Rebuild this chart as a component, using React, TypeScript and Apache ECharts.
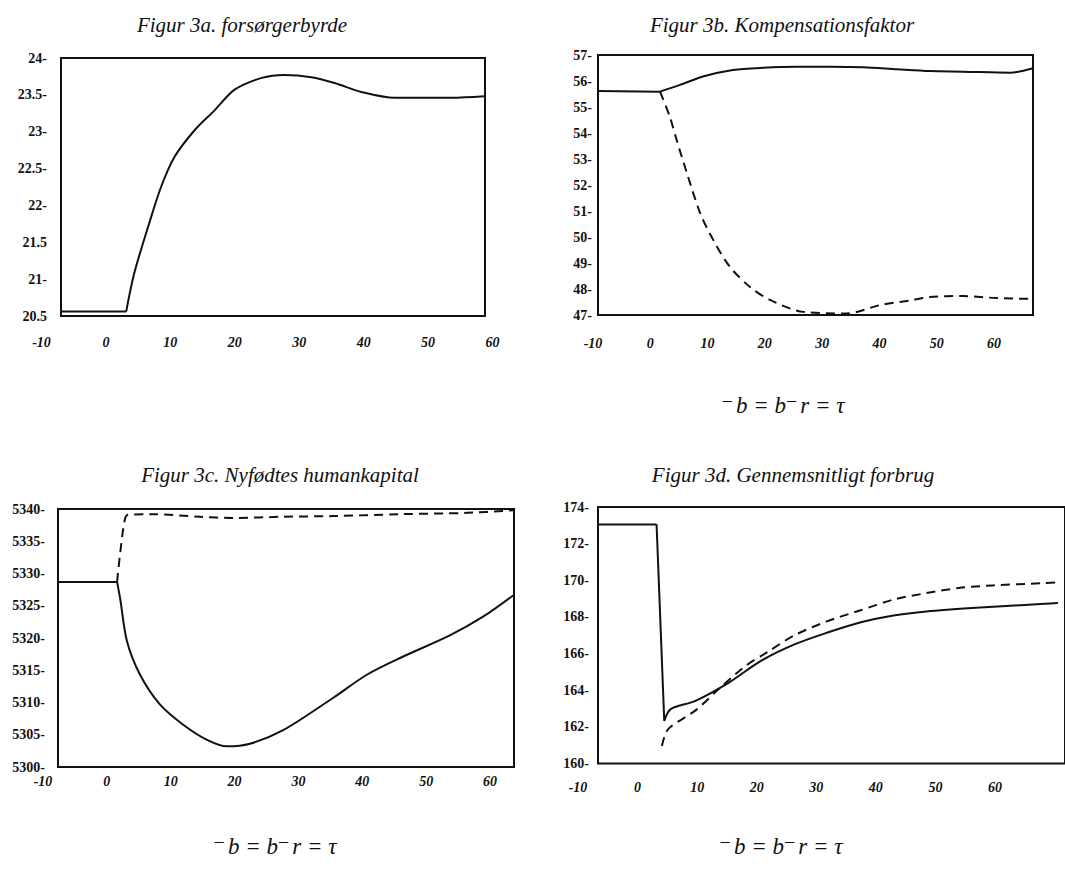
import React, { useEffect, useRef } from "react";
import * as echarts from "echarts";

// ---------- data ----------
// Figur 3a. forsørgerbyrde
const aX = [-7, 3.1, 4.35, 6.5, 8.5, 10.6, 13.7, 16.8, 19.9, 24.1, 27.6, 31.8, 35.4, 39.5, 44.7, 48.4, 53.5, 58.6];
const aSolid = [20.56, 20.56, 21.08, 21.71, 22.25, 22.66, 23.02, 23.29, 23.57, 23.73, 23.77, 23.74, 23.66, 23.54, 23.46, 23.46, 23.46, 23.48];

// Figur 3b. Kompensationsfaktor
const bX = [-9.1, 1.7, 5.2, 9.2, 14.4, 19.7, 25.6, 31.4, 37.2, 43.1, 48.8, 54.6, 62.8, 66.8];
const bSolid = [55.62, 55.59, 55.85, 56.17, 56.42, 56.51, 56.55, 56.55, 56.53, 56.45, 56.38, 56.36, 56.32, 56.49];
const bDX = [1.7, 3.4, 4.6, 6.4, 8.7, 11, 13.9, 17.4, 20.9, 26.7, 34.3, 40.1, 45.9, 48.8, 54.6, 60.5, 66.8];
const bDashed = [55.59, 54.63, 53.73, 52.45, 50.92, 49.88, 48.85, 48.08, 47.58, 47.12, 47.06, 47.38, 47.58, 47.69, 47.73, 47.65, 47.62];

// Figur 3c. Nyfødtes humankapital
const cX = [-7.65, 1.6, 2.1, 3.15, 5.2, 8.3, 11.9, 15.7, 18.8, 22.4, 27.6, 35.4, 40.7, 45.9, 53.7, 58.9, 63.6];
const cSolid = [5328.7, 5328.7, 5326, 5319.5, 5314.3, 5309.7, 5306.6, 5304.2, 5303.2, 5303.6, 5305.7, 5310.7, 5314.3, 5316.9, 5320.4, 5323.3, 5326.6];
const cDX = [1.6, 2.1, 2.8, 3.3, 6.8, 14.6, 19.75, 27.6, 35.4, 45.9, 56.4, 63.6];
const cDashed = [5328.7, 5333.3, 5338.3, 5339.1, 5339.2, 5338.8, 5338.6, 5338.8, 5338.9, 5339.2, 5339.4, 5339.8];

// Figur 3d. Gennemsnitligt forbrug
const dX = [-6.64, 3.3, 4.6, 5.7, 9.9, 15.5, 21, 26.7, 32.3, 37.8, 43.5, 49.1, 57.5, 69.2, 71.4];
const dSolid = [173.05, 173.05, 162.33, 162.97, 163.42, 164.4, 165.6, 166.5, 167.15, 167.7, 168.08, 168.3, 168.5, 168.72, 168.76];
const dDX = [4.2, 4.9, 5.9, 9.9, 13.8, 18.3, 22.2, 26.7, 32.3, 37.8, 43.5, 49.1, 54.6, 60.3, 69.2, 71.4];
const dDashed = [160.96, 161.7, 162.06, 162.9, 164.05, 165.3, 166.1, 167.0, 167.77, 168.35, 168.95, 169.3, 169.58, 169.72, 169.85, 169.88];

const titles = [
  "Figur 3a. forsørgerbyrde",
  "Figur 3b. Kompensationsfaktor",
  "Figur 3c. Nyfødtes humankapital",
  "Figur 3d. Gennemsnitligt forbrug",
];
// formula "−b = b−r = τ" (the minus signs are raised)
const formulaRich = "{m|−}{t|b = b}{m|−}{t|r = τ}";

// ---------- layout ----------
const W = 1065;
const FONT = '"Liberation Serif", "Times New Roman", serif';
const INK = "#111";

type Panel = {
  box: { l: number; r: number; t: number; b: number };
  xMin: number; xMax: number;
  yMin: number; yMax: number; yInt: number; yMargin: number;
  noDash: number[];
  lab: { x0: number; x1: number; y: number };
  title: { x: number; y: number };
};

const panels: Panel[] = [
  { box: { l: 61, r: 485, t: 58, b: 316 }, xMin: -7, xMax: 58.7, yMin: 20.5, yMax: 24, yInt: 0.5, yMargin: 14, noDash: [21.5, 20.5], lab: { x0: 41.5, x1: 492.5, y: 342 }, title: { x: 242, y: 25 } },
  { box: { l: 598, r: 1033, t: 55, b: 315 }, xMin: -9.13, xMax: 66.8, yMin: 47, yMax: 57, yInt: 1, yMargin: 6, noDash: [], lab: { x0: 593, x1: 994, y: 343 }, title: { x: 782, y: 25 } },
  { box: { l: 58, r: 514, t: 509, b: 767 }, xMin: -7.65, xMax: 63.75, yMin: 5300, yMax: 5340, yInt: 5, yMargin: 13, noDash: [], lab: { x0: 43, x1: 490, y: 781 }, title: { x: 280, y: 475 } },
  { box: { l: 598, r: 1070, t: 507, b: 763.5 }, xMin: -6.64, xMax: 72.6, yMin: 160, yMax: 174, yInt: 2, yMargin: 9, noDash: [], lab: { x0: 578, x1: 995, y: 787 }, title: { x: 793, y: 475 } },
];

const formulaPos = [
  { x: 783, y: 405 },
  { x: 275, y: 846 },
  { x: 781, y: 846 },
];

const pairs = (xs: number[], ys: number[]) => xs.map((x, i) => [x, ys[i]]);

function buildOption() {
  const grid: any[] = [];
  const xAxis: any[] = [];
  const yAxis: any[] = [];
  panels.forEach((p) => {
    grid.push({
      left: p.box.l, top: p.box.t, width: p.box.r - p.box.l, height: p.box.b - p.box.t,
      show: true, borderColor: INK, borderWidth: 2, backgroundColor: "transparent",
    });
    grid.push({ left: p.lab.x0, top: p.lab.y - 8, width: p.lab.x1 - p.lab.x0, height: 1, show: false });
  });
  panels.forEach((p, i) => {
    const gData = i * 2;
    const gLab = i * 2 + 1;
    xAxis.push({ type: "value", gridIndex: gData, min: p.xMin, max: p.xMax, show: false });
    yAxis.push({
      type: "value", gridIndex: gData, min: p.yMin, max: p.yMax, interval: p.yInt,
      axisLine: { show: false }, axisTick: { show: false }, splitLine: { show: false },
      axisLabel: {
        margin: p.yMargin, color: INK, fontFamily: FONT, fontSize: 14, fontWeight: "bold",
        formatter: (v: number) => (p.noDash.includes(v) ? `${v}` : `${v}-`),
      },
    });
    xAxis.push({
      type: "value", gridIndex: gLab, min: -10, max: 60, interval: 10,
      axisLine: { show: false }, axisTick: { show: false }, splitLine: { show: false },
      axisLabel: { margin: 0, color: INK, fontFamily: FONT, fontSize: 14, fontWeight: "bold", fontStyle: "italic" },
    });
    yAxis.push({ type: "value", gridIndex: gLab, show: false, min: 0, max: 1 });
  });

  // a line is drawn as smooth pieces between its corner points (breaks)
  const line = (panelIdx: number, xs: number[], ys: number[], dashed: boolean, breaks: number[]) => {
    const data = pairs(xs, ys);
    const cuts = [0, ...breaks, data.length - 1];
    const out: any[] = [];
    for (let k = 0; k < cuts.length - 1; k++) {
      out.push({
        type: "line",
        xAxisIndex: panelIdx * 2,
        yAxisIndex: panelIdx * 2,
        data: data.slice(cuts[k], cuts[k + 1] + 1),
        showSymbol: false,
        smooth: 0.3,
        lineStyle: { color: INK, width: 2, type: dashed ? [9, 6] : "solid", cap: "butt", join: "round" },
        silent: true,
      });
    }
    return out;
  };

  const series = [
    ...line(0, aX, aSolid, false, [1]),
    ...line(1, bX, bSolid, false, [1]),
    ...line(1, bDX, bDashed, true, []),
    ...line(2, cX, cSolid, false, [1]),
    ...line(2, cDX, cDashed, true, []),
    ...line(3, dX, dSolid, false, [1, 2]),
    ...line(3, dDX, dDashed, true, []),
  ];

  const title = (text: string, x: number, y: number) => ({
    type: "text", x, y,
    style: { text, fill: INK, font: `italic 21px ${FONT}`, textAlign: "center", textVerticalAlign: "middle" },
  });
  const formulaEl = (x: number, y: number) => ({
    type: "text", x, y,
    style: {
      text: formulaRich, fill: INK, textAlign: "center", textVerticalAlign: "middle",
      rich: {
        t: { fontFamily: FONT, fontStyle: "italic", fontSize: 23, lineHeight: 28, color: INK, verticalAlign: "middle" },
        m: { fontFamily: FONT, fontSize: 20, lineHeight: 12, color: INK, verticalAlign: "top", padding: [0, 3, 0, 0] },
      },
    },
  });

  const graphic = [
    ...panels.map((p, i) => title(titles[i], p.title.x, p.title.y)),
    ...formulaPos.map((f) => formulaEl(f.x, f.y)),
  ];

  return { animation: false, backgroundColor: "#fff", grid, xAxis, yAxis, series, graphic };
}

export default function App() {
  const ref = useRef<HTMLDivElement>(null);
  useEffect(() => {
    if (!ref.current) return;
    const chart = echarts.init(ref.current, null, { renderer: "svg" });
    chart.setOption(buildOption() as any);
    return () => chart.dispose();
  }, []);
  return (
    <div
      ref={ref}
      style={{ position: "fixed", left: 0, top: 0, width: W, height: 869, background: "#fff" }}
    />
  );
}
